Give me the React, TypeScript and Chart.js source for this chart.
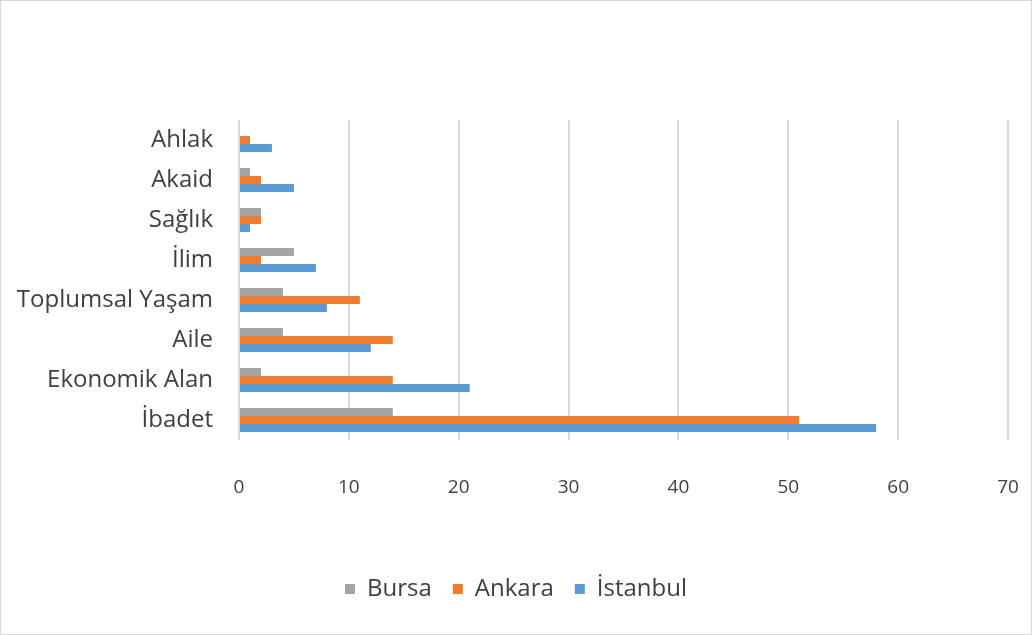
import React, { useEffect, useRef } from "react";
import { Chart, registerables } from "chart.js";

Chart.register(...registerables);

const categories = ["Ahlak", "Akaid", "Sağlık", "İlim", "Toplumsal Yaşam", "Aile", "Ekonomik Alan", "İbadet"];
const bursa = [0, 1, 2, 5, 4, 4, 2, 14];
const ankara = [1, 2, 2, 2, 11, 14, 14, 51];
const istanbul = [3, 5, 1, 7, 8, 12, 21, 58];
const seriesNames = ["Bursa", "Ankara", "İstanbul"];
const seriesColors = ["#a5a5a5", "#ed7d31", "#5b9bd5"];
const xTicks = [0, 10, 20, 30, 40, 50, 60, 70];

const FONT = "'Open Sans', Lato, sans-serif";

export default function App() {
  const ref = useRef<HTMLCanvasElement | null>(null);
  useEffect(() => {
    document.body.style.margin = "0";
    const canvas = ref.current!;
    const chart = new Chart(canvas, {
      type: "bar",
      data: {
        labels: categories,
        datasets: [bursa, ankara, istanbul].map((d, i) => ({
          label: seriesNames[i],
          data: d,
          backgroundColor: seriesColors[i],
          borderWidth: 0,
          categoryPercentage: 0.6,
          barPercentage: 1.0,
        })),
      },
      options: {
        indexAxis: "y",
        animation: false,
        responsive: false,
        maintainAspectRatio: false,
        layout: { padding: { top: 119, right: 0, bottom: 23, left: 0 } },
        plugins: {
          tooltip: { enabled: false },
          legend: {
            position: "bottom",
            labels: {
              boxWidth: 10,
              boxHeight: 10,
              padding: 21,
              color: "#404040",
              font: { family: FONT, size: 24 },
            },
          },
        },
        scales: {
          x: {
            min: 0,
            max: 70,
            afterBuildTicks: (s: any) => {
              s.ticks = xTicks.map((v) => ({ value: v }));
            },
            afterFit: (s: any) => {
              s.height = 116;
              s.paddingRight = 23;
              s.paddingLeft = 0;
            },
            grid: { color: "#d9d9d9", lineWidth: 2, drawTicks: false },
            border: { display: false },
            ticks: {
              padding: 36,
              maxRotation: 0,
              color: "#404040",
              font: { family: FONT, size: 19 },
            },
          },
          y: {
            afterFit: (s: any) => {
              s.width = 238;
            },
            grid: { display: false, drawTicks: false },
            border: { display: false },
            ticks: {
              padding: 26,
              color: "#404040",
              font: { family: FONT, size: 24 },
            },
          },
        },
      },
    });
    return () => chart.destroy();
  }, []);
  return (
    <div
      style={{
        width: 1032,
        height: 635,
        boxSizing: "border-box",
        border: "1px solid #d9d9d9",
        background: "#fff",
      }}
    >
      <canvas ref={ref} width={1030} height={633} style={{ display: "block" }} />
    </div>
  );
}
